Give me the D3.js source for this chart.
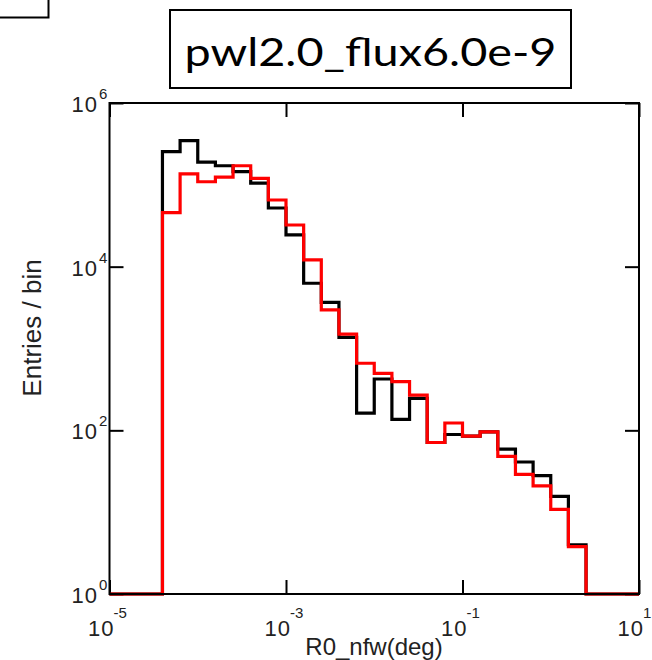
<!DOCTYPE html>
<html>
<head>
<meta charset="utf-8">
<script src="https://cdn.jsdelivr.net/npm/d3@7"></script>
<style>
  html, body { margin: 0; padding: 0; background: #fff; }
  svg { display: block; }
</style>
</head>
<body>
<svg id="chart" width="652" height="660"></svg>
<script>
// ---- data ----
const title = "pwl2.0_flux6.0e-9";
const xLabel = "R0_nfw(deg)";
const yLabel = "Entries / bin";
// log10 of bin lower edges (5 bins per decade from 1e-5 to 1e1)
const binEdgeExp = [-5.0,-4.8,-4.6,-4.4,-4.2,-4.0,-3.8,-3.6,-3.4,-3.2,-3.0,-2.8,-2.6,-2.4,-2.2,-2.0,-1.8,-1.6,-1.4,-1.2,-1.0,-0.8,-0.6,-0.4,-0.2,0.0,0.2,0.4,0.6,0.8,1.0];
// entries per bin (0 = empty bin)
const blackCounts = [0,0,0,254000,346000,189000,171000,145000,105000,52100,24400,6270,3670,1370,162,424,136,246,71,89,85,96,59,41,28,15.6,4.0,0,0,0];
const redCounts   = [0,0,0,45700,136000,109000,124000,171000,120000,65300,32300,12100,2960,1500,660,498,393,270,71,123,85,96,48,29,21,10.8,3.8,0,0,0];
const xTickExp = [-5,-3,-1,1];
const yTickExp = [0,2,4,6];

// ---- layout ----
const svg = d3.select("#chart");
const x = d3.scaleLog().domain([1e-5, 10]).range([109.5, 639]);
const y = d3.scaleLog().domain([1, 1e6]).range([594, 103]).clamp(true);

// top-left fragment box
svg.append("path").attr("d", "M0,17.5H48.5V0").attr("fill","none").attr("stroke","#000").attr("stroke-width",2);

// title box
svg.append("rect").attr("x",170).attr("y",10).attr("width",401).attr("height",78)
  .attr("fill","#fff").attr("stroke","#000").attr("stroke-width",2);
svg.append("text").attr("x",370.5).attr("y",66).attr("text-anchor","middle")
  .attr("font-family","Lato, 'Open Sans', sans-serif").attr("font-size",39)
  .attr("textLength",372).attr("lengthAdjust","spacingAndGlyphs")
  .text(title);

// ticks (inner) on all four sides
const tickLen = 14;
const xt = xTickExp.map(e => Math.pow(10, e));
const yt = yTickExp.map(e => Math.pow(10, e));
function stripAxis(g){ g.select(".domain").remove(); g.selectAll("line").attr("stroke","#000").attr("stroke-width",2); }
svg.append("g").attr("transform",`translate(0,${y.range()[0]})`)
  .call(d3.axisBottom(x).tickValues(xt).tickSizeInner(-tickLen).tickSizeOuter(0).tickFormat(""))
  .call(stripAxis);
svg.append("g").attr("transform",`translate(0,${y.range()[1]})`)
  .call(d3.axisTop(x).tickValues(xt).tickSizeInner(-tickLen).tickSizeOuter(0).tickFormat(""))
  .call(stripAxis);
svg.append("g").attr("transform",`translate(${x.range()[0]},0)`)
  .call(d3.axisLeft(y).tickValues(yt).tickSizeInner(-tickLen).tickSizeOuter(0).tickFormat(""))
  .call(stripAxis);
svg.append("g").attr("transform",`translate(${x.range()[1]},0)`)
  .call(d3.axisRight(y).tickValues(yt).tickSizeInner(-tickLen).tickSizeOuter(0).tickFormat(""))
  .call(stripAxis);

// histograms
function stepPoints(counts){
  const pts = [[Math.pow(10, binEdgeExp[0]), 1]];
  counts.forEach((c, i) => {
    const v = c > 0 ? c : 1;
    pts.push([Math.pow(10, binEdgeExp[i]), v]);
    pts.push([Math.pow(10, binEdgeExp[i+1]), v]);
  });
  pts.push([Math.pow(10, binEdgeExp[binEdgeExp.length-1]), 1]);
  return pts;
}
const line = d3.line().x(d => x(d[0])).y(d => y(d[1]));
svg.append("path").attr("d", line(stepPoints(blackCounts)))
  .attr("fill","none").attr("stroke","#000").attr("stroke-width",3.2).attr("stroke-linejoin","miter");
svg.append("path").attr("d", line(stepPoints(redCounts)))
  .attr("fill","none").attr("stroke","#ff0000").attr("stroke-width",3.2).attr("stroke-linejoin","miter");

// frame
svg.append("rect").attr("x",x.range()[0]).attr("y",y.range()[1])
  .attr("width",x.range()[1]-x.range()[0]).attr("height",y.range()[0]-y.range()[1])
  .attr("fill","none").attr("stroke","#000").attr("stroke-width",2);

// tick labels
const lblFont = "'Liberation Sans', Arial, Helvetica, sans-serif";
const lblColor = "#222";
yTickExp.forEach(e => {
  const yy = y(Math.pow(10, e));
  svg.append("text").attr("font-family",lblFont).attr("fill",lblColor).attr("font-size",22)
    .attr("x",98).attr("y",yy+9).attr("text-anchor","end").attr("letter-spacing",1).text("10");
  svg.append("text").attr("font-family",lblFont).attr("fill",lblColor).attr("font-size",15)
    .attr("x",99).attr("y",yy-4).text(String(e));
});
xTickExp.forEach(e => {
  const xx = x(Math.pow(10, e));
  svg.append("text").attr("font-family",lblFont).attr("fill",lblColor).attr("font-size",22)
    .attr("x",xx+5).attr("y",636).attr("text-anchor","end").attr("letter-spacing",1).text("10");
  svg.append("text").attr("font-family",lblFont).attr("fill",lblColor).attr("font-size",15)
    .attr("x",xx+4).attr("y",618).text(String(e));
});

// axis titles
svg.append("text").attr("font-family",lblFont).attr("fill",lblColor).attr("font-size",24)
  .attr("text-anchor","middle").attr("x",374).attr("y",655).text(xLabel);
svg.append("text").attr("font-family",lblFont).attr("fill",lblColor).attr("font-size",26)
  .attr("text-anchor","middle").attr("transform","translate(41,328) rotate(-90)").text(yLabel);
</script>
</body>
</html>
